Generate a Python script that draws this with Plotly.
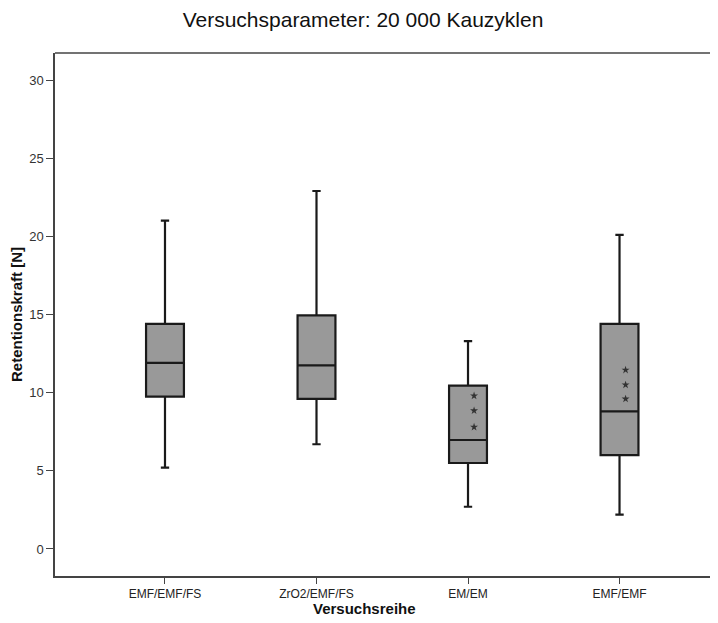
import plotly.graph_objects as go

categories = ["EMF/EMF/FS", "ZrO2/EMF/FS", "EM/EM", "EMF/EMF"]
lower_whisker = [5.2, 6.7, 2.7, 2.2]
q1_values = [9.75, 9.6, 5.5, 6.0]
median_values = [11.9, 11.75, 6.97, 8.8]
q3_values = [14.4, 14.95, 10.45, 14.4]
upper_whisker = [21.0, 22.9, 13.3, 20.1]

star_categories = ["EM/EM", "EM/EM", "EM/EM", "EMF/EMF", "EMF/EMF", "EMF/EMF"]
star_values = [9.8, 8.85, 7.8, 11.45, 10.5, 9.6]

y_tick_values = [0, 5, 10, 15, 20, 25, 30]

font_family = "Liberation Sans, Arial, sans-serif"

positions = list(range(len(categories)))
star_offset = 0.04
star_x = [categories.index(c) + star_offset for c in star_categories]

fig = go.Figure()
fig.add_trace(go.Box(
    x=positions,
    q1=q1_values,
    median=median_values,
    q3=q3_values,
    lowerfence=lower_whisker,
    upperfence=upper_whisker,
    fillcolor="#999999",
    line=dict(color="#1a1a1a", width=2.2),
    width=0.25,
    whiskerwidth=0.22,
    boxpoints=False,
    showlegend=False,
    hoverinfo="skip",
))
fig.add_trace(go.Scatter(
    x=star_x,
    y=star_values,
    mode="markers",
    marker=dict(symbol="star", size=6, color="#333333"),
    showlegend=False,
    hoverinfo="skip",
))

# the page body adds an 8px offset; margins compensate for it
W, H = 710, 615
L, T, B = 47, 45, 47
plot_w = W - L
plot_h = H - T - B
fig.update_layout(
    width=W,
    height=H,
    margin=dict(l=L, r=0, t=T, b=B),
    paper_bgcolor="white",
    plot_bgcolor="white",
    font=dict(family=font_family, color="#222222"),
    title=dict(
        text="Versuchsparameter: 20 000 Kauzyklen",
        x=(363 - 8) / W, xanchor="center", xref="container",
        y=1 - 12 / H, yanchor="middle", yref="container",
        font=dict(size=21, color="#111111", family=font_family),
    ),
    xaxis=dict(
        automargin=False,
        tickvals=positions,
        ticktext=categories,
        range=[-0.726, 3.65],
        showgrid=False,
        zeroline=False,
        showline=True,
        linecolor="#444444",
        linewidth=1.5,
        ticks="outside",
        ticklen=6,
        tickcolor="#444444",
        tickfont=dict(size=12, color="#222222"),
    ),
    yaxis=dict(
        automargin=False,
        range=[-1.73, 31.73],
        tickvals=y_tick_values,
        showgrid=False,
        zeroline=False,
        showline=True,
        linecolor="#444444",
        linewidth=1.5,
        ticks="outside",
        ticklen=7,
        tickcolor="#444444",
        tickfont=dict(size=13, color="#333333"),
        title=dict(text="<b>Retentionskraft [N]</b>", font=dict(size=15, color="#111111"), standoff=4),
    ),
    annotations=[dict(
        text="<b>Versuchsreihe</b>",
        xref="paper", yref="paper",
        x=(356 - L) / plot_w, y=-33 / plot_h,
        xanchor="center", yanchor="middle",
        showarrow=False,
        font=dict(size=15, color="#111111", family=font_family),
    )],
    shapes=[dict(
        type="line", xref="paper", yref="paper",
        x0=0, x1=1, y0=1, y1=1,
        line=dict(color="#444444", width=1.5),
    )],
)

fig.write_html("out.html")
